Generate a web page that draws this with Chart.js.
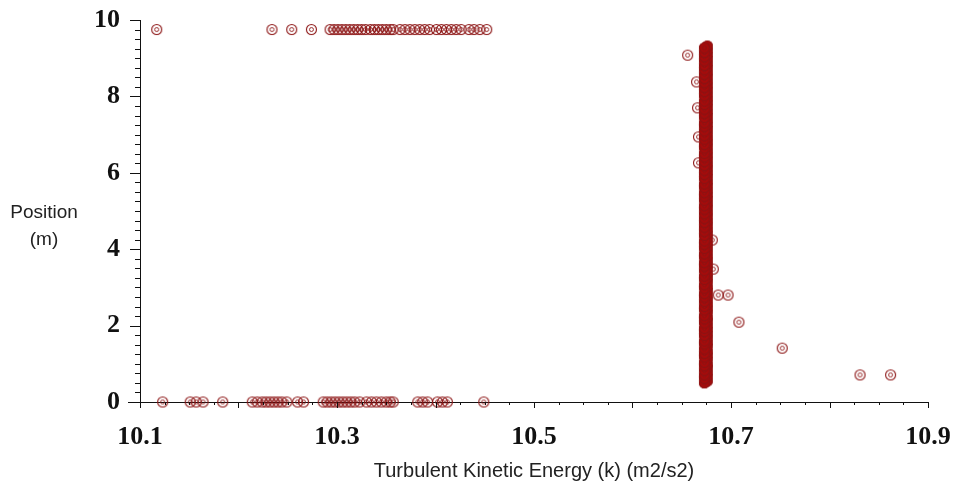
<!DOCTYPE html>
<html>
<head>
<meta charset="utf-8">
<script src="https://cdn.jsdelivr.net/npm/chart.js@4.4.0/dist/chart.umd.min.js"></script>
<style>
  html, body { margin: 0; padding: 0; background: #fff; }
  canvas { display: block; }
</style>
</head>
<body>
<canvas id="grafico" width="953" height="491"></canvas>
<script>
// puntos arriba (y = 9.75)
const topY = 9.75;
const topX = [10.117, 10.234, 10.254, 10.274, 10.293, 10.297, 10.301, 10.305, 10.309, 10.313, 10.317,
    10.321, 10.325, 10.329, 10.334, 10.338, 10.342, 10.346, 10.350, 10.354, 10.357, 10.364, 10.369,
    10.374, 10.379, 10.384, 10.389, 10.394, 10.401, 10.406, 10.411, 10.416, 10.421, 10.426, 10.434,
    10.439, 10.445, 10.452];

// puntos abajo (y = 0)
const bottomY = 0;
const bottomX = [10.123, 10.151, 10.157, 10.164, 10.184, 10.214, 10.219, 10.224, 10.228, 10.232, 10.236,
    10.240, 10.244, 10.249, 10.260, 10.266, 10.286, 10.290, 10.294, 10.298, 10.302, 10.306, 10.310,
    10.314, 10.318, 10.323, 10.330, 10.335, 10.340, 10.345, 10.350, 10.354, 10.357, 10.382, 10.387,
    10.392, 10.402, 10.407, 10.412, 10.449];

// banda vertical
const bandLeftX = 10.673;
const bandLeftY = [0.50, 0.62, 0.71, 0.83, 0.95, 1.04, 1.18, 1.27, 1.39, 1.52, 1.60, 1.74, 1.85, 1.93,
    2.07, 2.18, 2.26, 2.41, 2.50, 2.63, 2.75, 2.84, 2.98, 3.07, 3.21, 3.30, 3.44, 3.56, 3.65, 3.79,
    3.88, 4.02, 4.13, 4.22, 4.36, 4.47, 4.58, 4.70, 4.81, 4.93, 5.05, 5.14, 5.28, 5.39, 5.48, 5.62,
    5.71, 5.85, 5.96, 6.07, 6.19, 6.30, 6.42, 6.51, 6.65, 6.74, 6.88, 6.97, 7.10, 7.22, 7.31, 7.45,
    7.56, 7.67, 7.79, 7.88, 8.02, 8.13, 8.24, 8.36, 8.47, 8.58, 8.70, 8.81, 8.93, 9.04, 9.15, 9.27];
const bandRightX = 10.676;
const bandRightY = [0.55, 0.67, 0.78, 0.90, 0.99, 1.12, 1.23, 1.33, 1.46, 1.56, 1.68, 1.79, 1.90, 2.01,
    2.13, 2.22, 2.35, 2.46, 2.57, 2.69, 2.80, 2.92, 3.02, 3.15, 3.26, 3.37, 3.50, 3.61, 3.72, 3.83,
    3.95, 4.07, 4.18, 4.30, 4.41, 4.52, 4.64, 4.75, 4.87, 4.98, 5.10, 5.21, 5.33, 5.44, 5.55, 5.67,
    5.78, 5.90, 6.01, 6.13, 6.24, 6.36, 6.47, 6.58, 6.70, 6.81, 6.92, 7.04, 7.16, 7.27, 7.38, 7.50,
    7.61, 7.73, 7.84, 7.95, 8.07, 8.19, 8.30, 8.41, 8.53, 8.64, 8.76, 8.87, 8.99, 9.10, 9.21, 9.32];

// puntos sueltos junto a la banda y la cola
const sideX = [10.656, 10.665, 10.666, 10.667, 10.667, 10.681, 10.682, 10.687, 10.697, 10.708, 10.752, 10.831, 10.862];
const sideY = [9.08, 8.38, 7.70, 6.94, 6.26, 4.24, 3.48, 2.80, 2.80, 2.09, 1.41, 0.71, 0.71];

const xLabels = ['10.1', '10.3', '10.5', '10.7', '10.9'];
const yLabels = ['0', '2', '4', '6', '8', '10'];
const xTitle = 'Turbulent Kinetic Energy (k) (m2/s2)';
const yTitle = ['Position', '(m)'];

const rojo = 'rgb(140,20,20)';

function marcador(relleno) {
    const c = document.createElement('canvas');
    c.width = 13; c.height = 13;
    const g = c.getContext('2d');
    if (relleno) {
        g.fillStyle = relleno;
        g.beginPath(); g.arc(6.5, 6.5, 5.5, 0, Math.PI * 2); g.fill();
    }
    g.strokeStyle = rojo;
    g.lineWidth = 1.1;
    g.beginPath(); g.arc(6.5, 6.5, 5, 0, Math.PI * 2); g.stroke();
    g.lineWidth = 0.9;
    g.beginPath(); g.arc(6.5, 6.5, 2, 0, Math.PI * 2); g.stroke();
    return c;
}
const punto = marcador(null);
const puntoBanda = marcador('rgb(165,12,12)');

const cerca = (v, list) => list.find(l => Math.abs(v - parseFloat(l)) < 1e-6);

// marcas de los ejes (mayores y menores)
const marcas = {
    id: 'marcas',
    afterDraw(chart) {
        const ctx = chart.ctx, a = chart.chartArea;
        const x = chart.scales.x, y = chart.scales.y;
        ctx.save();
        ctx.strokeStyle = '#111';
        ctx.lineWidth = 1;
        ctx.beginPath();
        ctx.moveTo(128, a.bottom + 0.5); ctx.lineTo(a.left, a.bottom + 0.5);
        x.ticks.forEach(t => {
            const px = Math.round(x.getPixelForValue(t.value)) + 0.5;
            const r = (t.value - 10.1) / 0.1;
            const len = Math.abs(r - Math.round(r)) < 1e-6 ? 6 : 3;
            ctx.moveTo(px, a.bottom); ctx.lineTo(px, a.bottom + len);
        });
        y.ticks.forEach(t => {
            const py = Math.round(y.getPixelForValue(t.value)) + 0.5;
            const len = Math.abs(t.value / 2 - Math.round(t.value / 2)) < 1e-6 ? 10 : 5;
            ctx.moveTo(a.left - len, py); ctx.lineTo(a.left, py);
        });
        ctx.stroke();
        ctx.fillStyle = '#222';
        ctx.font = '19px "Liberation Sans", Arial, sans-serif';
        ctx.textAlign = 'center';
        ctx.textBaseline = 'middle';
        ctx.fillText(yTitle[0], 44, 213);
        ctx.fillText(yTitle[1], 44, 240);
        ctx.restore();
    }
};

const conjunto = (xs, ys) => xs.map((v, i) => ({ x: v, y: Array.isArray(ys) ? ys[i] : ys }));

const estilo = {
    pointStyle: punto,
    pointRadius: 5,
    showLine: false,
    clip: false
};

new Chart(document.getElementById('grafico'), {
    type: 'scatter',
    data: {
        datasets: [
            { ...estilo, data: conjunto(topX, topY) },
            { ...estilo, data: conjunto(bottomX, bottomY) },
            { ...estilo, pointStyle: puntoBanda, data: bandLeftY.map(v => ({ x: bandLeftX, y: v })) },
            { ...estilo, pointStyle: puntoBanda, data: bandRightY.map(v => ({ x: bandRightX, y: v })) },
            { ...estilo, data: conjunto(sideX, sideY) }
        ]
    },
    options: {
        responsive: false,
        animation: false,
        layout: { padding: { left: 0, right: 25, top: 20, bottom: 0 } },
        plugins: { legend: { display: false }, tooltip: { enabled: false } },
        scales: {
            x: {
                type: 'linear',
                min: 10.1,
                max: 10.9,
                afterFit: s => { s.height = 89; s.paddingLeft = 0; s.paddingRight = 0; },
                grid: { display: false, drawTicks: false },
                border: { display: true, color: '#111', width: 1 },
                ticks: {
                    stepSize: 0.025,
                    autoSkip: false,
                    maxRotation: 0,
                    padding: 20,
                    color: '#111',
                    font: { family: '"Liberation Serif", "Times New Roman", serif', size: 26, weight: 'bold' },
                    callback: v => cerca(v, xLabels) || ''
                },
                title: {
                    display: true,
                    text: xTitle,
                    color: '#222',
                    font: { family: '"Liberation Sans", Arial, sans-serif', size: 20 },
                    padding: { top: 0, bottom: 8 }
                }
            },
            y: {
                min: 0,
                max: 10,
                afterFit: s => { s.width = 140; s.paddingTop = 0; s.paddingBottom = 0; },
                grid: { display: false, drawTicks: false },
                border: { display: true, color: '#111', width: 1 },
                ticks: {
                    stepSize: 0.25,
                    autoSkip: false,
                    padding: 20,
                    color: '#111',
                    font: { family: '"Liberation Serif", "Times New Roman", serif', size: 26, weight: 'bold' },
                    callback: v => cerca(v, yLabels) || ''
                }
            }
        }
    },
    plugins: [marcas]
});
</script>
</body>
</html>
